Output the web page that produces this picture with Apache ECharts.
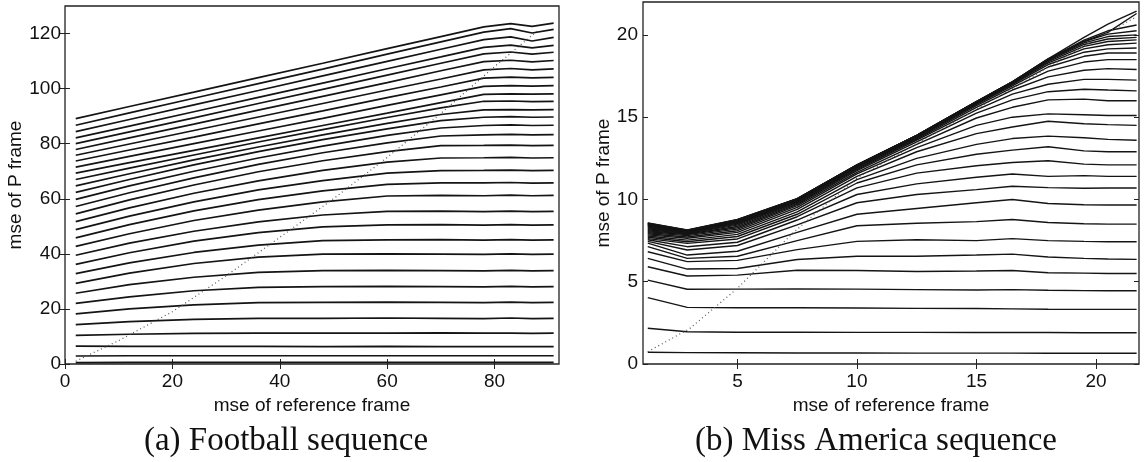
<!DOCTYPE html>
<html>
<head>
<meta charset="utf-8">
<script src="https://cdn.jsdelivr.net/npm/echarts@6/dist/echarts.min.js"></script>
<style>
  html, body { margin: 0; padding: 0; background: #fff; }
  #chart { width: 1145px; height: 462px; }
</style>
</head>
<body>
<div id="chart"></div>
<script>
// (a) Football sequence -- one curve per quantizer, bottom to top
const footballX = [2, 12, 24, 36, 48, 60, 70, 78, 83, 87, 91]
const footballMse = [
  [0.5, 0.6, 0.6, 0.6, 0.6, 0.6, 0.6, 0.6, 0.6, 0.6, 0.6],
  [2.9, 3.0, 3.0, 3.0, 3.0, 3.0, 3.0, 3.0, 3.0, 3.0, 3.0],
  [6.5, 6.4, 6.4, 6.4, 6.3, 6.4, 6.3, 6.3, 6.3, 6.3, 6.3],
  [10.4, 10.8, 11.1, 11.2, 11.2, 11.2, 11.3, 11.2, 11.2, 11.1, 11.2],
  [14.3, 15.4, 16.2, 16.6, 16.6, 16.7, 16.6, 16.5, 16.7, 16.5, 16.6],
  [18.2, 20.0, 21.5, 22.3, 22.4, 22.5, 22.4, 22.3, 22.5, 22.3, 22.4],
  [22.0, 24.4, 26.6, 27.8, 28.1, 28.2, 28.1, 28.0, 28.2, 28.0, 28.1],
  [25.7, 28.8, 31.5, 33.3, 33.9, 34.0, 33.9, 33.8, 34.0, 33.8, 33.9],
  [29.3, 33.0, 36.5, 38.8, 39.9, 40.0, 39.9, 39.8, 40.0, 39.8, 39.9],
  [32.8, 36.7, 40.5, 43.2, 44.8, 45.1, 45.2, 45.0, 45.2, 45.0, 45.1],
  [36.2, 40.4, 44.6, 47.7, 49.8, 50.5, 50.6, 50.4, 50.6, 50.4, 50.5],
  [39.5, 43.9, 48.2, 51.6, 54.1, 55.4, 55.5, 55.3, 55.5, 55.3, 55.4],
  [42.7, 47.3, 52.1, 55.9, 58.9, 61.0, 61.2, 61.1, 61.3, 61.1, 61.2],
  [45.8, 50.6, 55.6, 59.7, 62.9, 65.2, 65.8, 65.8, 65.9, 65.7, 65.8],
  [48.8, 53.7, 58.9, 63.2, 66.6, 69.3, 70.2, 70.3, 70.4, 70.2, 70.3],
  [51.7, 56.7, 62.0, 66.5, 70.3, 73.3, 74.8, 74.9, 75.0, 74.8, 74.9],
  [54.5, 59.6, 65.0, 69.8, 73.8, 77.1, 79.3, 79.4, 79.5, 79.3, 79.4],
  [57.2, 62.2, 67.6, 72.5, 76.7, 80.3, 82.8, 83.2, 83.4, 83.2, 83.3],
  [59.8, 64.7, 70.0, 74.8, 79.1, 83.0, 85.7, 86.6, 86.8, 86.6, 86.7],
  [62.3, 67.0, 72.3, 77.1, 81.5, 85.4, 88.4, 89.6, 89.8, 89.6, 89.7],
  [64.7, 69.1, 74.1, 78.8, 83.2, 87.4, 90.6, 92.3, 92.4, 92.3, 92.4],
  [67.0, 71.1, 75.9, 80.6, 85.1, 89.5, 93.0, 95.4, 95.5, 95.3, 95.4],
  [69.3, 73.1, 77.6, 82.1, 86.6, 91.1, 94.9, 97.9, 98.1, 98.0, 98.1],
  [71.5, 75.4, 80.0, 84.6, 89.2, 93.9, 97.7, 100.8, 101.1, 100.9, 101.1],
  [73.7, 77.7, 82.4, 87.2, 91.9, 96.7, 100.6, 103.8, 104.2, 103.9, 104.1],
  [75.8, 79.9, 84.8, 89.7, 94.6, 99.5, 103.5, 106.8, 107.3, 106.8, 107.2],
  [77.9, 82.1, 87.1, 92.2, 97.2, 102.2, 106.5, 109.8, 110.3, 109.7, 110.2],
  [80.0, 84.3, 89.4, 94.6, 99.7, 104.9, 109.2, 112.6, 113.3, 112.5, 113.2],
  [82.1, 86.4, 91.6, 96.8, 102.0, 107.2, 111.5, 115.0, 115.8, 114.8, 115.7],
  [84.4, 88.8, 94.1, 99.3, 104.6, 109.9, 114.3, 117.8, 118.8, 117.3, 118.6],
  [86.7, 91.2, 96.5, 101.8, 107.1, 112.5, 117.0, 120.5, 121.8, 120.2, 121.5],
  [89.1, 93.5, 98.7, 104.0, 109.2, 114.5, 118.9, 122.4, 123.6, 122.6, 123.8]
]
const footballDiagX = [2, 10, 20, 30, 40, 50, 60, 70, 80, 88]
const footballDiagY = [1, 8.5, 19, 32, 46, 60, 75, 91, 108, 121]
const footballXTicks = [0, 20, 40, 60, 80]
const footballYTicks = [0, 20, 40, 60, 80, 100, 120]

// (b) Miss America sequence
const missX = [1.25, 2.9, 5, 7.5, 10, 12.5, 15, 16.5, 18, 19.5, 20.5, 21.7]
const missMse = [
  [0.71, 0.69, 0.68, 0.67, 0.67, 0.66, 0.66, 0.66, 0.65, 0.65, 0.65, 0.65],
  [2.17, 1.96, 1.93, 1.93, 1.92, 1.92, 1.91, 1.91, 1.91, 1.90, 1.90, 1.90],
  [4.03, 3.44, 3.42, 3.42, 3.40, 3.38, 3.37, 3.35, 3.33, 3.32, 3.32, 3.32],
  [5.10, 4.54, 4.55, 4.56, 4.55, 4.52, 4.50, 4.52, 4.48, 4.46, 4.45, 4.45],
  [5.91, 5.35, 5.40, 5.70, 5.68, 5.62, 5.65, 5.68, 5.55, 5.52, 5.50, 5.50],
  [6.42, 5.77, 5.80, 6.35, 6.55, 6.55, 6.62, 6.68, 6.50, 6.42, 6.38, 6.36],
  [6.82, 6.22, 6.30, 6.95, 7.45, 7.55, 7.50, 7.62, 7.50, 7.45, 7.43, 7.43],
  [7.13, 6.42, 6.55, 7.50, 8.40, 8.55, 8.65, 8.78, 8.60, 8.52, 8.50, 8.50],
  [7.35, 6.62, 6.85, 8.00, 9.10, 9.45, 9.80, 10.0, 9.75, 9.68, 9.66, 9.66],
  [7.45, 6.93, 7.20, 8.45, 9.80, 10.30, 10.60, 10.80, 10.72, 10.68, 10.70, 10.70],
  [7.55, 7.13, 7.40, 8.75, 10.30, 10.95, 11.35, 11.55, 11.40, 11.45, 11.40, 11.40],
  [7.62, 7.33, 7.60, 8.95, 10.70, 11.60, 12.05, 12.25, 12.35, 12.15, 12.10, 12.10],
  [7.70, 7.43, 7.75, 9.10, 11.00, 12.10, 12.75, 13.00, 13.20, 12.95, 12.90, 12.90],
  [7.78, 7.53, 7.88, 9.25, 11.20, 12.50, 13.35, 13.70, 13.85, 13.75, 13.65, 13.60],
  [7.85, 7.64, 8.00, 9.40, 11.40, 12.90, 14.00, 14.40, 14.75, 14.60, 14.55, 14.50],
  [7.92, 7.72, 8.10, 9.52, 11.55, 13.15, 14.50, 15.00, 15.20, 15.15, 15.10, 15.10],
  [7.98, 7.80, 8.20, 9.62, 11.65, 13.35, 14.95, 15.60, 16.05, 16.10, 16.00, 16.00],
  [8.04, 7.86, 8.28, 9.70, 11.75, 13.50, 15.25, 16.05, 16.55, 16.70, 16.65, 16.60],
  [8.10, 7.90, 8.36, 9.76, 11.82, 13.60, 15.45, 16.40, 17.00, 17.30, 17.30, 17.25],
  [8.16, 7.94, 8.44, 9.82, 11.88, 13.66, 15.60, 16.65, 17.45, 17.85, 17.95, 17.90],
  [8.22, 7.98, 8.50, 9.86, 11.93, 13.72, 15.70, 16.80, 17.80, 18.35, 18.50, 18.50],
  [8.27, 8.01, 8.55, 9.90, 11.97, 13.76, 15.78, 16.90, 18.05, 18.70, 18.90, 18.90],
  [8.32, 8.03, 8.60, 9.93, 12.00, 13.80, 15.83, 16.98, 18.20, 18.95, 19.15, 19.20],
  [8.37, 8.05, 8.64, 9.96, 12.03, 13.83, 15.86, 17.03, 18.30, 19.15, 19.40, 19.50],
  [8.41, 8.07, 8.67, 9.98, 12.05, 13.85, 15.89, 17.07, 18.38, 19.30, 19.60, 19.70],
  [8.45, 8.09, 8.70, 10.00, 12.07, 13.87, 15.91, 17.10, 18.44, 19.42, 19.75, 19.85],
  [8.48, 8.10, 8.72, 10.02, 12.08, 13.88, 15.93, 17.12, 18.48, 19.52, 19.90, 20.00],
  [8.51, 8.11, 8.74, 10.03, 12.09, 13.89, 15.94, 17.14, 18.51, 19.60, 20.05, 20.25],
  [8.54, 8.12, 8.76, 10.04, 12.10, 13.90, 15.95, 17.15, 18.53, 19.68, 20.25, 20.60],
  [8.56, 8.13, 8.77, 10.05, 12.10, 13.90, 15.95, 17.15, 18.54, 19.60, 20.15, 21.30],
  [8.58, 8.14, 8.78, 10.05, 12.10, 13.90, 15.95, 17.15, 18.55, 19.85, 20.65, 21.45]
]
const missDiagX = [1.25, 3, 5, 7.35, 10, 12.5, 15, 17.5, 19.8, 21.7]
const missDiagY = [0.75, 2.15, 4.6, 8.0, 11.3, 13.4, 15.5, 17.6, 19.6, 21.1]
const missXTicks = [5, 10, 15, 20]
const missYTicks = [0, 5, 10, 15, 20]

const tickFont = { fontFamily: 'Liberation Sans', fontSize: 19, color: '#111' }
const nameFont = { fontFamily: 'Liberation Sans', fontSize: 19, color: '#111' }

function frameAxis(gridIndex, min, max, ticks, position, extra) {
  return Object.assign({
    type: 'value',
    gridIndex: gridIndex,
    position: position,
    min: min,
    max: max,
    axisLine: { show: false },
    splitLine: { show: false },
    axisTick: { show: true, inside: true, length: 5, customValues: ticks, lineStyle: { color: '#222', width: 1 } },
    axisLabel: { show: false }
  }, extra || {})
}

function pairs(xs, ys) {
  return xs.map((x, i) => [x, ys[i]])
}

const series = []
footballMse.forEach(curve => {
  series.push({
    type: 'line', xAxisIndex: 0, yAxisIndex: 0, symbol: 'none', silent: true,
    lineStyle: { color: '#141414', width: 1.7 },
    data: pairs(footballX, curve)
  })
})
series.push({
  type: 'line', xAxisIndex: 0, yAxisIndex: 0, symbol: 'none', silent: true,
  lineStyle: { color: '#555', width: 1.2, type: [1, 3] },
  data: pairs(footballDiagX, footballDiagY)
})
missMse.forEach(curve => {
  series.push({
    type: 'line', xAxisIndex: 2, yAxisIndex: 2, symbol: 'none', silent: true,
    lineStyle: { color: '#141414', width: 1.4 },
    data: pairs(missX, curve)
  })
})
series.push({
  type: 'line', xAxisIndex: 2, yAxisIndex: 2, symbol: 'none', silent: true,
  lineStyle: { color: '#555', width: 1.2, type: [1, 3] },
  data: pairs(missDiagX, missDiagY)
})

const chart = echarts.init(document.getElementById('chart'), null, { renderer: 'canvas' })
chart.setOption({
  animation: false,
  backgroundColor: '#fff',
  grid: [
    { left: 65, top: 6, width: 494, height: 358, show: true, borderColor: '#222', borderWidth: 1.3, backgroundColor: 'transparent' },
    { left: 643, top: 2, width: 496, height: 362, show: true, borderColor: '#222', borderWidth: 1.3, backgroundColor: 'transparent' }
  ],
  xAxis: [
    frameAxis(0, 0, 92, footballXTicks, 'bottom', {
      axisLabel: { show: true, customValues: footballXTicks, margin: 8, ...tickFont },
      name: 'mse of reference frame', nameLocation: 'middle', nameGap: 28, nameTextStyle: nameFont
    }),
    frameAxis(0, 0, 92, footballXTicks, 'top'),
    frameAxis(1, 1.05, 21.8, missXTicks, 'bottom', {
      axisLabel: { show: true, customValues: missXTicks, margin: 8, ...tickFont },
      name: 'mse of reference frame', nameLocation: 'middle', nameGap: 28, nameTextStyle: nameFont
    }),
    frameAxis(1, 1.05, 21.8, missXTicks, 'top')
  ],
  yAxis: [
    frameAxis(0, 0, 130, footballYTicks, 'left', {
      axisLabel: { show: true, customValues: footballYTicks, margin: 4, ...tickFont },
      name: 'mse of P frame', nameLocation: 'middle', nameGap: 38, nameTextStyle: nameFont
    }),
    frameAxis(0, 0, 130, footballYTicks, 'right'),
    frameAxis(1, 0, 22, missYTicks, 'left', {
      axisLabel: { show: true, customValues: missYTicks, margin: 5, ...tickFont },
      name: 'mse of P frame', nameLocation: 'middle', nameGap: 26, nameTextStyle: nameFont
    }),
    frameAxis(1, 0, 22, missYTicks, 'right')
  ],
  graphic: [
    { type: 'text', x: 286, y: 441, silent: true,
      style: { text: '(a) Football sequence', font: '33px "Liberation Serif"', fill: '#111', textAlign: 'center', textVerticalAlign: 'middle' } },
    { type: 'text', x: 876, y: 441, silent: true,
      style: { text: '(b) Miss America sequence', font: '33px "Liberation Serif"', fill: '#111', textAlign: 'center', textVerticalAlign: 'middle' } }
  ],
  series: series
})
</script>
</body>
</html>
